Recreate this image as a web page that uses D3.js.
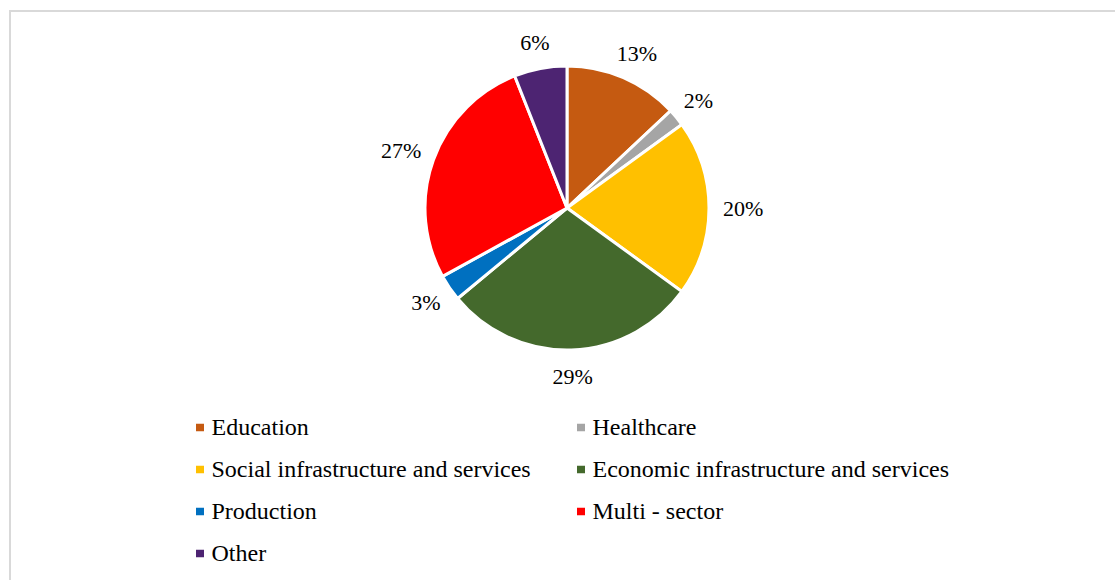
<!DOCTYPE html>
<html>
<head>
<meta charset="utf-8">
<script src="https://cdn.jsdelivr.net/npm/d3@7"></script>
<style>
  html, body { margin: 0; padding: 0; background: #fff; }
  svg { display: block; }
  svg text { font-family: "Liberation Serif", "Times New Roman", Tinos, "DejaVu Serif", serif; }
</style>
</head>
<body>
<svg id="chart" width="1115" height="580"></svg>
<script>
// Sector shares (percent)
const categories = [
  "Education",
  "Healthcare",
  "Social infrastructure and services",
  "Economic infrastructure and services",
  "Production",
  "Multi - sector",
  "Other"
];
const shares = [13, 2, 20, 29, 3, 27, 6];
const colors = ["#C55A11", "#A5A5A5", "#FFC000", "#44692C", "#0070C0", "#FF0000", "#4D2472"];

const W = 1115, H = 580;
const svg = d3.select("#chart");

// Chart frame
svg.append("rect")
  .attr("x", 10).attr("y", 11)
  .attr("width", W + 20).attr("height", H + 20)
  .attr("fill", "none")
  .attr("stroke", "#d9d9d9")
  .attr("stroke-width", 2);

const cx = 567, cy = 208, radius = 142;
const data = categories.map((c, i) => ({ name: c, value: shares[i], color: colors[i] }));

const pie = d3.pie().sort(null).value(d => d.value);
const arcs = pie(data);
const arc = d3.arc().innerRadius(0).outerRadius(radius);

const g = svg.append("g").attr("transform", `translate(${cx},${cy})`);

g.selectAll("path.slice")
  .data(arcs)
  .join("path")
  .attr("class", "slice")
  .attr("d", arc)
  .attr("fill", d => d.data.color)
  .attr("stroke", "#fff")
  .attr("stroke-width", 3)
  .attr("stroke-linejoin", "miter");

// Outside-end data labels: anchored just past the rim, box pushed outward
const labelFont = 22;
const gap = 14;
g.selectAll("text.lbl")
  .data(arcs)
  .join("text")
  .attr("class", "lbl")
  .attr("font-size", labelFont)
  .attr("fill", "#000")
  .attr("text-anchor", "middle")
  .attr("dominant-baseline", "central")
  .text(d => d.data.value + "%")
  .each(function(d) {
    const a = (d.startAngle + d.endAngle) / 2;
    const s = Math.sin(a), c = Math.cos(a);
    const bb = this.getBBox();
    const rr = radius + gap;
    const x = rr * s + (bb.width / 2) * s;
    const y = -rr * c - (bb.height / 2) * c;
    d3.select(this).attr("x", x).attr("y", y);
  });

// Legend: two columns, filled row by row
const legX = [196, 577];
const legY0 = 427.5, legDy = 42;
const legend = svg.append("g");
const items = legend.selectAll("g.item")
  .data(data)
  .join("g")
  .attr("class", "item")
  .attr("transform", (d, i) => `translate(${legX[i % 2]},${legY0 + Math.floor(i / 2) * legDy})`);

items.append("rect")
  .attr("x", 0).attr("y", -3.75)
  .attr("width", 8).attr("height", 7.5)
  .attr("fill", d => d.color);

items.append("text")
  .attr("x", 15.5)
  .attr("y", 0)
  .attr("dy", "0.33em")
  .attr("font-size", 24)
  .attr("fill", "#000")
  .text(d => d.name);
</script>
</body>
</html>
